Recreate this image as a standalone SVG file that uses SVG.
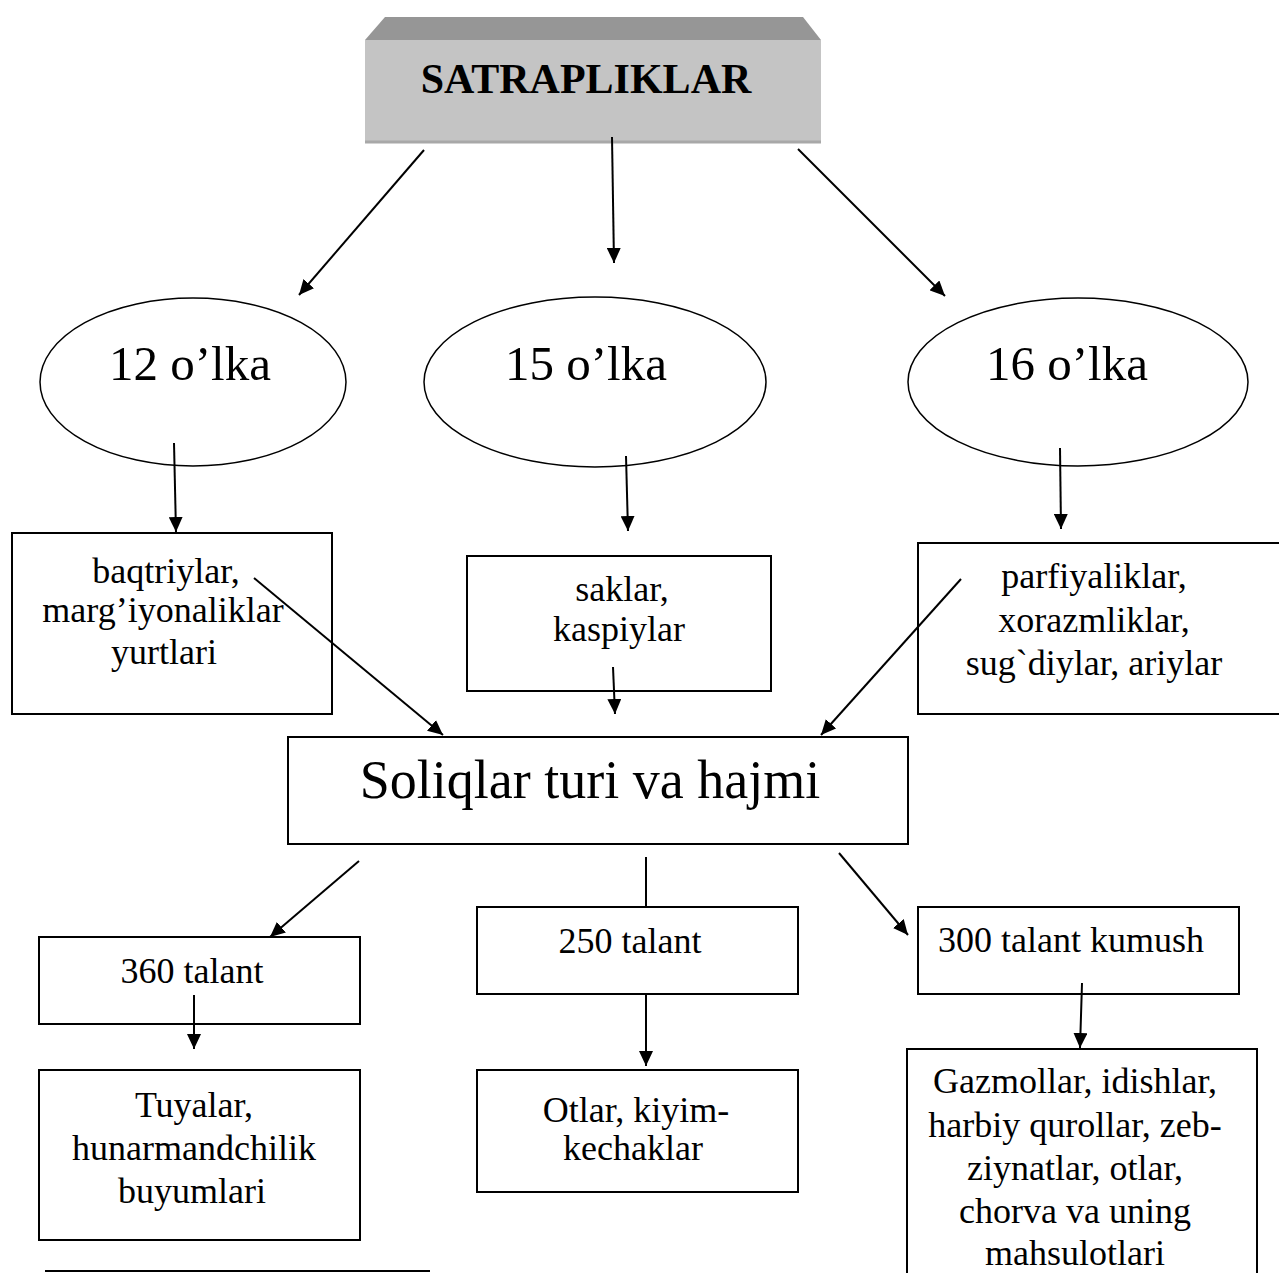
<svg xmlns="http://www.w3.org/2000/svg" width="1279" height="1273" viewBox="0 0 1279 1273">
<defs>
<marker id="arr" markerUnits="userSpaceOnUse" markerWidth="16" markerHeight="14" refX="15" refY="7" orient="auto">
<path d="M0,0 L15,7 L0,14 z" fill="#000"/>
</marker>
<style>
.box{fill:#fff;stroke:#000;stroke-width:2}
.ell{fill:#fff;stroke:#000;stroke-width:1.5}
.t{font-family:"Liberation Serif","Times New Roman",serif;fill:#000;text-anchor:middle}
.t36{font-size:36px}
.t49{font-size:49px}
.t54{font-size:54px}
.c{stroke:#000;stroke-width:2;fill:none}
.ca{stroke:#000;stroke-width:2;fill:none;marker-end:url(#arr)}
</style>
</defs>
<rect width="1279" height="1273" fill="#fff"/>

<g id="satrapliklar">
<polygon points="365,40 385,17 803,17 821,40" fill="#969696"/>
<rect x="365" y="40" width="456" height="103" fill="#c4c4c4"/>
<line x1="365" y1="142" x2="821" y2="142" stroke="#a8a8a8" stroke-width="3"/>
<text class="t" x="586" y="93" font-size="42" font-weight="bold">SATRAPLIKLAR</text>
</g>

<g id="e12">
<ellipse class="ell" cx="193" cy="382" rx="153" ry="84"/>
<text class="t t49" x="190" y="380">12 o’lka</text>
</g>
<g id="e15">
<ellipse class="ell" cx="595" cy="382" rx="171" ry="85"/>
<text class="t t49" x="586" y="380">15 o’lka</text>
</g>
<g id="e16">
<ellipse class="ell" cx="1078" cy="382" rx="170" ry="84"/>
<text class="t t49" x="1067" y="380">16 o’lka</text>
</g>

<g id="baqtriylar">
<rect class="box" x="12" y="533" width="320" height="181"/>
<text class="t t36" x="166" y="583">baqtriylar,</text>
<text class="t t36" x="163" y="622">marg’iyonaliklar</text>
<text class="t t36" x="164" y="664">yurtlari</text>
</g>
<g id="saklar">
<rect class="box" x="467" y="556" width="304" height="135"/>
<text class="t t36" x="622" y="601">saklar,</text>
<text class="t t36" x="619" y="641">kaspiylar</text>
</g>
<g id="parfiyaliklar">
<rect class="box" x="918" y="543" width="365" height="171"/>
<text class="t t36" x="1094" y="588">parfiyaliklar,</text>
<text class="t t36" x="1094" y="632">xorazmliklar,</text>
<text class="t t36" x="1094" y="675">sug`diylar, ariylar</text>
</g>

<g id="soliqlar">
<rect class="box" x="288" y="737" width="620" height="107"/>
<text class="t t54" x="590" y="798">Soliqlar turi va hajmi</text>
</g>

<g id="t360">
<rect class="box" x="39" y="937" width="321" height="87"/>
<text class="t t36" x="192" y="983">360 talant</text>
</g>
<g id="t250">
<rect class="box" x="477" y="907" width="321" height="87"/>
<text class="t t36" x="630" y="953">250 talant</text>
</g>
<g id="t300">
<rect class="box" x="918" y="907" width="321" height="87"/>
<text class="t t36" x="1071" y="952">300 talant kumush</text>
</g>

<g id="tuyalar">
<rect class="box" x="39" y="1070" width="321" height="170"/>
<text class="t t36" x="194" y="1117">Tuyalar,</text>
<text class="t t36" x="194" y="1160">hunarmandchilik</text>
<text class="t t36" x="192" y="1203">buyumlari</text>
</g>
<g id="otlar">
<rect class="box" x="477" y="1070" width="321" height="122"/>
<text class="t t36" x="636" y="1122">Otlar, kiyim-</text>
<text class="t t36" x="633" y="1160">kechaklar</text>
</g>
<g id="gazmollar">
<rect class="box" x="907" y="1049" width="350" height="240"/>
<text class="t t36" x="1075" y="1093">Gazmollar, idishlar,</text>
<text class="t t36" x="1075" y="1137">harbiy qurollar, zeb-</text>
<text class="t t36" x="1075" y="1180">ziynatlar, otlar,</text>
<text class="t t36" x="1075" y="1223">chorva va uning</text>
<text class="t t36" x="1075" y="1265">mahsulotlari</text>
</g>

<g id="connectors">
<line class="ca" x1="424" y1="150" x2="299" y2="295"/>
<line class="ca" x1="612" y1="137" x2="614" y2="263"/>
<line class="ca" x1="798" y1="149" x2="945" y2="296"/>
<line class="ca" x1="174" y1="443" x2="176" y2="532"/>
<line class="ca" x1="626" y1="456" x2="628" y2="531"/>
<line class="ca" x1="1060" y1="448" x2="1061" y2="529"/>
<line class="ca" x1="254" y1="578" x2="443" y2="735"/>
<line class="ca" x1="613" y1="667" x2="615" y2="714"/>
<line class="ca" x1="961" y1="579" x2="821" y2="735"/>
<line class="ca" x1="359" y1="861" x2="270" y2="937"/>
<line class="c" x1="646" y1="857" x2="646" y2="907"/>
<line class="ca" x1="839" y1="853" x2="908" y2="935"/>
<line class="ca" x1="194" y1="995" x2="194" y2="1049"/>
<line class="ca" x1="646" y1="994" x2="646" y2="1066"/>
<line class="ca" x1="1082" y1="983" x2="1080" y2="1048"/>
</g>

<line x1="45" y1="1271" x2="430" y2="1271" stroke="#000" stroke-width="2"/>
</svg>
